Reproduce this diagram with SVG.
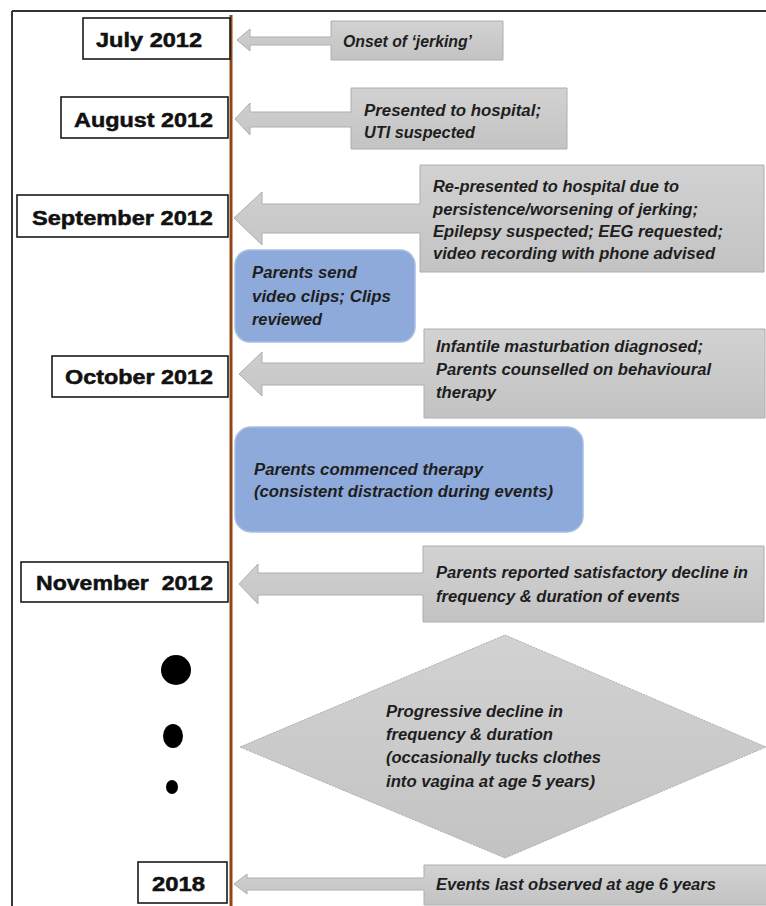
<svg xmlns="http://www.w3.org/2000/svg" width="766" height="906" viewBox="0 0 766 906">
<defs>
<linearGradient id="gray" x1="0" y1="0" x2="0" y2="1">
<stop offset="0" stop-color="#d2d2d2"/>
<stop offset="1" stop-color="#c3c3c3"/>
</linearGradient>
<style>
.date rect{fill:#fff;stroke:#1a1a1a;stroke-width:1.6}
.date text{font-family:"Liberation Sans",Arial,sans-serif;font-weight:bold;font-size:20px;fill:#111;stroke:#111;stroke-width:0.5;lengthAdjust:spacingAndGlyphs}
.call path,.call polygon{fill:url(#gray);stroke:#aeaeae;stroke-width:1}
.call text,.blue text{font-family:"Liberation Sans",Arial,sans-serif;font-weight:bold;font-style:italic;font-size:16px;fill:#1e1e1e}
.blue rect{fill:#8eaadb;stroke:#a8bde3;stroke-width:1.5}
.dot{fill:#000}
</style>
</defs>
<g id="frame">
<line x1="12" y1="11" x2="766" y2="11" stroke="#333" stroke-width="2"/>
<line x1="12" y1="11" x2="12" y2="906" stroke="#222" stroke-width="1.8"/>
</g>
<g id="connectors">
<line x1="231" y1="15" x2="231" y2="906" stroke="#8f4516" stroke-width="3"/>
</g>
<g id="d-jul" class="date"><rect x="83" y="18" width="147" height="41"/><text x="96" y="47" textLength="106" lengthAdjust="spacingAndGlyphs">July 2012</text></g>
<g id="d-aug" class="date"><rect x="61" y="97" width="167" height="41"/><text x="74" y="127" textLength="139" lengthAdjust="spacingAndGlyphs">August 2012</text></g>
<g id="d-sep" class="date"><rect x="17" y="195" width="211" height="42"/><text x="32" y="225" textLength="181" lengthAdjust="spacingAndGlyphs">September 2012</text></g>
<g id="d-oct" class="date"><rect x="52" y="356" width="176" height="41"/><text x="65" y="384" textLength="148" lengthAdjust="spacingAndGlyphs">October 2012</text></g>
<g id="d-nov" class="date"><rect x="21" y="562" width="207" height="40"/><text x="36" y="590" textLength="177" lengthAdjust="spacingAndGlyphs" xml:space="preserve">November  2012</text></g>
<g id="d-2018" class="date"><rect x="138" y="862" width="89" height="41"/><text x="152" y="891" textLength="53" lengthAdjust="spacingAndGlyphs">2018</text></g>

<g id="c-jul" class="call">
<path d="M503,21 H331 V37 H250 V29 L237,40 L250,51 V45 H331 V60 H503 Z"/>
<text x="343" y="47" textLength="129" lengthAdjust="spacingAndGlyphs">Onset of ‘jerking’</text>
</g>
<g id="c-aug" class="call">
<path d="M567,88 H351 V112 H250 V103 L235,119 L250,135 V127 H351 V149 H567 Z"/>
<text x="364" y="116" textLength="177" lengthAdjust="spacingAndGlyphs">Presented to hospital;</text>
<text x="364" y="138" textLength="111" lengthAdjust="spacingAndGlyphs">UTI suspected</text>
</g>
<g id="c-sep" class="call">
<path d="M764,165 H420 V204 H262 V192 L234,218 L262,245 V233 H420 V272 H764 Z"/>
<text x="433" y="192" textLength="246" lengthAdjust="spacingAndGlyphs">Re-presented to hospital due to</text>
<text x="433" y="215" textLength="265" lengthAdjust="spacingAndGlyphs">persistence/worsening of jerking;</text>
<text x="433" y="237" textLength="290" lengthAdjust="spacingAndGlyphs">Epilepsy suspected; EEG requested;</text>
<text x="433" y="259" textLength="282" lengthAdjust="spacingAndGlyphs">video recording with phone advised</text>
</g>
<g id="b-video" class="blue">
<rect x="235" y="250" width="180" height="92" rx="15"/>
<text x="252" y="278" textLength="105" lengthAdjust="spacingAndGlyphs">Parents send</text>
<text x="252" y="302" textLength="139" lengthAdjust="spacingAndGlyphs">video clips; Clips</text>
<text x="252" y="325" textLength="70" lengthAdjust="spacingAndGlyphs">reviewed</text>
</g>
<g id="c-oct" class="call">
<path d="M765,329 H424 V363 H262 V352 L239,374 L262,396 V385 H424 V418 H765 Z"/>
<text x="436" y="352" textLength="267" lengthAdjust="spacingAndGlyphs">Infantile masturbation diagnosed;</text>
<text x="436" y="375" textLength="275" lengthAdjust="spacingAndGlyphs">Parents counselled on behavioural</text>
<text x="436" y="398" textLength="60" lengthAdjust="spacingAndGlyphs">therapy</text>
</g>
<g id="b-therapy" class="blue">
<rect x="235" y="427" width="348" height="105" rx="16"/>
<text x="254" y="475" textLength="229" lengthAdjust="spacingAndGlyphs">Parents commenced therapy</text>
<text x="254" y="497" textLength="299" lengthAdjust="spacingAndGlyphs">(consistent distraction during events)</text>
</g>
<g id="c-nov" class="call">
<path d="M764,546 H423 V573 H258 V564 L239,584 L258,604 V595 H423 V622 H764 Z"/>
<text x="436" y="578" textLength="312" lengthAdjust="spacingAndGlyphs">Parents reported satisfactory decline in</text>
<text x="436" y="602" textLength="244" lengthAdjust="spacingAndGlyphs">frequency &amp; duration of events</text>
</g>
<g id="dots">
<circle class="dot" cx="176" cy="670" r="15"/>
<ellipse class="dot" cx="173" cy="736" rx="10" ry="12"/>
<ellipse class="dot" cx="172" cy="787" rx="6" ry="7"/>
</g>
<g id="diamond" class="call">
<polygon points="240,747 505,635 766,747 505,858" stroke-dasharray="2 1"/>
<text x="386" y="717" textLength="177" lengthAdjust="spacingAndGlyphs">Progressive decline in</text>
<text x="386" y="740" textLength="167" lengthAdjust="spacingAndGlyphs">frequency &amp; duration</text>
<text x="386" y="763" textLength="215" lengthAdjust="spacingAndGlyphs">(occasionally tucks clothes</text>
<text x="386" y="787" textLength="209" lengthAdjust="spacingAndGlyphs">into vagina at age 5 years)</text>
</g>
<g id="c-2018" class="call">
<path d="M772,865 H424 V878 H247 V874 L234,884 L247,894 V890 H424 V905 H772 Z"/>
<text x="436" y="890" textLength="280" lengthAdjust="spacingAndGlyphs">Events last observed at age 6 years</text>
</g>
</svg>
